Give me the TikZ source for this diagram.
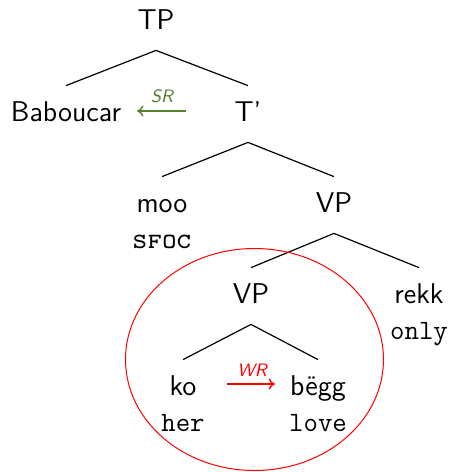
\documentclass[tikz,border=0pt]{standalone}
\usetikzlibrary{arrows.meta}
\begin{document}
\begin{tikzpicture}[x=0.5pt,y=-0.5pt,
  word/.style={font=\fontsize{14.3}{17}\selectfont\sffamily, anchor=base,
    text height=10.5pt, text depth=3.5pt, inner ysep=7pt, inner xsep=0pt},
  gloss/.style={font=\fontsize{14}{17}\selectfont\ttfamily, anchor=base, inner sep=0pt},
  branch/.style={line width=0.6pt},
  rel/.style={line width=0.7pt, -{To[length=3.2pt,width=5.5pt]}},
  rellabel/.style={font=\fontsize{9}{11}\selectfont\sffamily\itshape, anchor=base, inner sep=0pt},
]
\definecolor{srgreen}{RGB}{88,128,48}
\useasboundingbox (0,0) rectangle (451,472);

% tree nodes
\node[word] (TP)   at (156,29)  {TP};
\node[word] (Bab)  at (66,121)  {Baboucar};
\node[word] (Tbar) at (248,121) {T'};
\node[word] (moo)  at (162,212) {moo};
\node[word] (VPa)  at (334,212) {VP};
\node[word] (VPb)  at (251,303) {VP};
\node[word] (rekk) at (419,303) {rekk};
\node[word] (ko)   at (183,395) {ko};
\node[word] (begg) at (318,395) {bëgg};

% glosses
\node[gloss] (sfoc) at (162,248) {\textsc{sfoc}};
\node[gloss] (only) at (419,339) {only};
\node[gloss] (her)  at (183,431) {her};
\node[gloss] (love) at (318,431) {love};

% branches
\draw[branch] (TP.south) -- (Bab.north);
\draw[branch] (TP.south) -- (Tbar.north);
\draw[branch] (Tbar.south) -- (moo.north);
\draw[branch] (Tbar.south) -- (VPa.north);
\draw[branch] (VPa.south) -- (VPb.north);
\draw[branch] (VPa.south) -- (rekk.north);
\draw[branch] (VPb.south) -- (ko.north);
\draw[branch] (VPb.south) -- (begg.north);

% strong relation
\coordinate (srFrom) at (186,111);
\coordinate (srTo)   at (137,111);
\draw[rel, srgreen] (srFrom) -- (srTo);
\node[rellabel, text=srgreen] (srLab) at (162,102) {SR};

% weak relation
\coordinate (wrFrom) at (227,384);
\coordinate (wrTo)   at (275,384);
\draw[rel, red] (wrFrom) -- (wrTo);
\node[rellabel, text=red] (wrLab) at (252,376) {WR};

% domain
\draw[red, line width=0.5pt] (254.5,359.5) ellipse [x radius=64.5pt, y radius=55.5pt];
\end{tikzpicture}
\end{document}
